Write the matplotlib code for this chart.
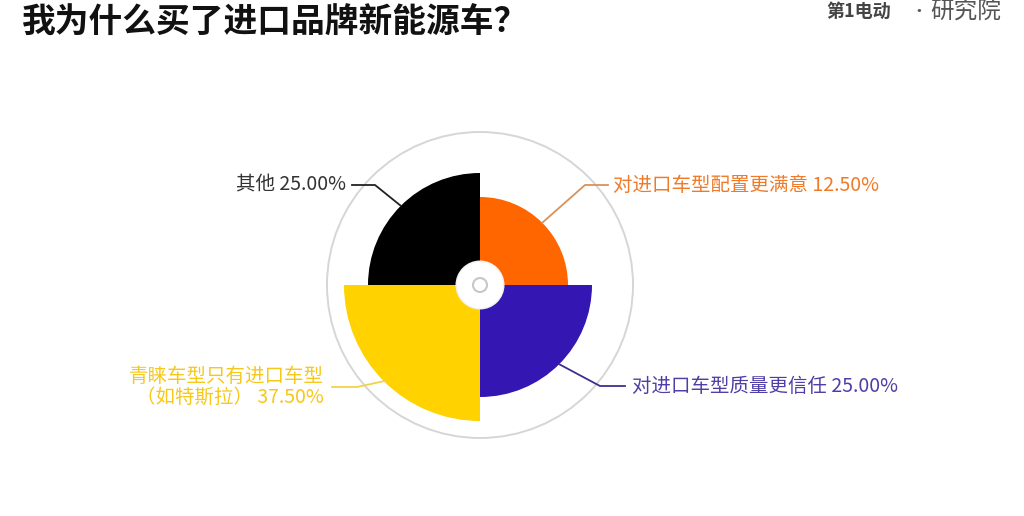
import matplotlib
matplotlib.use("Agg")
import matplotlib.pyplot as plt
from matplotlib.patches import Wedge, Circle
import numpy as np

plt.rcParams['font.family'] = ['Noto Sans CJK SC', 'DejaVu Sans']

# ---- data ----
categories = ["对进口车型配置更满意", "对进口车型质量更信任", "青睐车型只有进口车型\n（如特斯拉）", "其他"]
values = [12.5, 25.0, 37.5, 25.0]
colors = ["#FF6600", "#3416B2", "#FFD200", "#000000"]
text_colors = ["#F07A28", "#4E3FA6", "#F7C81A", "#333333"]
line_colors = ["#D9925A", "#3E2F8E", "#F2D24A", "#222222"]

title = "我为什么买了进口品牌新能源车？"

W, H = 1024, 516
fig = plt.figure(figsize=(W / 100, H / 100), dpi=100)
ax = fig.add_axes([0, 0, 1, 1])
ax.set_xlim(0, W)
ax.set_ylim(H, 0)  # pixel-like coordinates, y down
ax.axis("off")

cx, cy = 480, 285
r_outer_ring = 153
r_hole = 23
r0, r_max = 64, 136
vmax = max(values)

def radius(v):
    return r0 + (r_max - r0) * v / vmax

# outer ring
ax.add_patch(Circle((cx, cy), r_outer_ring, fill=False, ec="#D6D6D6", lw=1.4, zorder=1))

angle_each = 360 / len(values)
start = -90
label_layout = [
    # (elbow x, elbow y, end x, text x, ha)
    (585, 185, 608, 613, "left"),
    (600, 386, 625, 632, "left"),
    (357, 387, 332, 324, "right"),
    (375, 185, 352, 346, "right"),
]
for i, (cat, v, c) in enumerate(zip(categories, values, colors)):
    r = radius(v)
    t1 = start + i * angle_each
    t2 = t1 + angle_each
    ax.add_patch(Wedge((cx, cy), r, t1, t2, fc=c, ec="none", zorder=2))
    mid = np.deg2rad((t1 + t2) / 2)
    px, py = cx + r * np.cos(mid), cy + r * np.sin(mid)
    ex, ey, hx, tx, ha = label_layout[i]
    ax.plot([px, ex, hx], [py, ey, ey], color=line_colors[i], lw=1.3, zorder=3,
            solid_joinstyle="round")
    label = f"{cat} {v:.2f}%"
    ax.text(tx, ey, label, ha=ha, va="center", color=text_colors[i], fontsize=14,
            linespacing=1.0, multialignment="right" if ha == "right" else "left", zorder=4)

# center hole
ax.add_patch(Circle((cx, cy), r_hole + 1.5, fc="#F2F2F2", ec="none", zorder=5))
ax.add_patch(Circle((cx, cy), r_hole, fc="white", ec="none", zorder=6))
ax.add_patch(Circle((cx, cy), 7, fill=False, ec="#C8C8C8", lw=1.5, zorder=7))

# title
ax.text(22, 22, title, ha="left", va="center", fontsize=24.3, fontweight="heavy", color="#111111")

# logo
ax.text(826, 11, "第1电动", ha="left", va="center", fontsize=13,
        fontweight="bold", color="#444444")
ax.text(910, 11, "•", ha="left", va="center", fontsize=12, color="#555555")
ax.text(930, 11, "研究院", ha="left", va="center", fontsize=17, fontweight="light", color="#555555")

fig.savefig("out.png", dpi=100)
